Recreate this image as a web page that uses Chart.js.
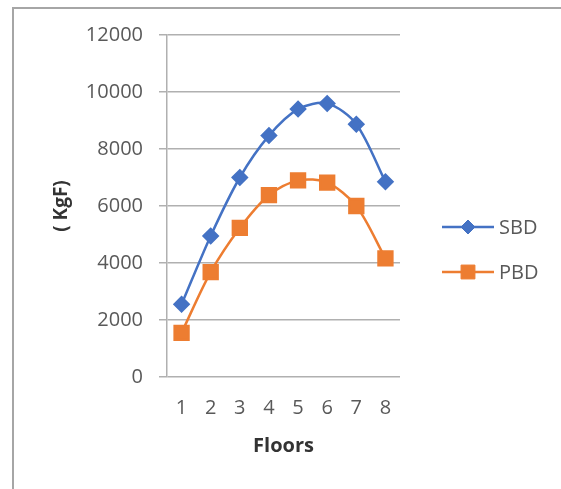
<!DOCTYPE html>
<html>
<head>
<meta charset="utf-8">
<script src="https://cdn.jsdelivr.net/npm/chart.js@4/dist/chart.umd.min.js"></script>
<style>
  html, body { margin: 0; padding: 0; background: #ffffff; }
  #wrap { position: relative; width: 561px; height: 489px; }
</style>
</head>
<body>
<div id="wrap"><canvas id="c"></canvas></div>
<script>
// Floor-by-floor force values (KgF)
const floors = ['1', '2', '3', '4', '5', '6', '7', '8'];
const sbdValues = [2550, 4950, 7000, 8470, 9400, 9600, 8870, 6850];
const pbdValues = [1550, 3680, 5230, 6380, 6900, 6820, 6000, 4160];
const seriesNames = ['SBD', 'PBD'];
const yTicks = [0, 2000, 4000, 6000, 8000, 10000, 12000];

const BLUE = '#4472C4';
const ORANGE = '#ED7D31';
const TEXT = '#595959';
const GRID = '#b0b0b0';
const FONT = "'Open Sans', 'Liberation Sans', sans-serif";

// Thin frame along the left and top edges
const framePlugin = {
  id: 'frame',
  beforeDraw(chart) {
    const ctx = chart.ctx;
    ctx.save();
    ctx.strokeStyle = '#a6a6a6';
    ctx.lineWidth = 2;
    ctx.beginPath();
    ctx.moveTo(13, chart.height + 2);
    ctx.lineTo(13, 8);
    ctx.lineTo(chart.width + 2, 8);
    ctx.stroke();
    ctx.restore();
  }
};

// Legend with a line segment and the series marker, to the right of the plot
const lineLegend = {
  id: 'lineLegend',
  afterDraw(chart) {
    const ctx = chart.ctx;
    const x0 = chart.chartArea.right + 42;
    const lineLen = 52;
    const rows = [227, 272];
    ctx.save();
    chart.data.datasets.forEach((ds, i) => {
      const y = rows[i];
      ctx.strokeStyle = ds.borderColor;
      ctx.lineWidth = 2.5;
      ctx.beginPath();
      ctx.moveTo(x0, y);
      ctx.lineTo(x0 + lineLen, y);
      ctx.stroke();
      ctx.fillStyle = ds.pointBackgroundColor;
      ctx.strokeStyle = ds.pointBorderColor;
      ctx.lineWidth = 1;
      Chart.helpers.drawPoint(ctx, {
        pointStyle: ds.pointStyle,
        radius: ds.pointRadius,
        borderWidth: 1,
        rotation: 0
      }, x0 + lineLen / 2, y);
      ctx.fillStyle = TEXT;
      ctx.font = '20px ' + FONT;
      ctx.textAlign = 'left';
      ctx.textBaseline = 'middle';
      ctx.fillText(ds.label, x0 + lineLen + 5, y + 1);
    });
    ctx.restore();
  }
};

new Chart(document.getElementById('c'), {
  type: 'line',
  data: {
    labels: floors,
    datasets: [
      {
        label: seriesNames[0],
        data: sbdValues,
        borderColor: BLUE,
        backgroundColor: BLUE,
        pointBackgroundColor: BLUE,
        pointBorderColor: BLUE,
        pointStyle: 'rectRot',
        pointRadius: 7,
        borderWidth: 2.5,
        tension: 0.3
      },
      {
        label: seriesNames[1],
        data: pbdValues,
        borderColor: ORANGE,
        backgroundColor: ORANGE,
        pointBackgroundColor: ORANGE,
        pointBorderColor: ORANGE,
        pointStyle: 'rect',
        pointRadius: 9.8,
        borderWidth: 2.5,
        tension: 0.3
      }
    ]
  },
  options: {
    responsive: true,
    maintainAspectRatio: false,
    animation: false,
    events: [],
    layout: { padding: { left: 50, right: 161, top: 35, bottom: 31 } },
    plugins: {
      legend: { display: false },
      tooltip: { enabled: false }
    },
    scales: {
      x: {
        offset: true,
        grid: { display: false, drawTicks: false },
        border: { display: false },
        ticks: { color: TEXT, font: { family: FONT, size: 20 }, padding: 19 },
        title: {
          display: true,
          text: 'Floors',
          color: '#333333',
          font: { family: FONT, size: 20, weight: 'bold' },
          padding: { top: 14, bottom: 0 }
        },
        afterFit(scale) { scale.height = 81; }
      },
      y: {
        min: 0,
        max: 12000,
        afterBuildTicks(scale) { scale.ticks = yTicks.map(v => ({ value: v })); },
        grid: { color: GRID, lineWidth: 1.5, tickLength: 8 },
        border: { display: true, color: GRID, width: 1.5 },
        ticks: {
          color: TEXT,
          font: { family: FONT, size: 20 },
          padding: 16,
          callback: (v) => String(v)
        },
        title: {
          display: true,
          text: '( KgF)',
          color: '#333333',
          font: { family: FONT, size: 19, weight: 'bold' },
          padding: 0
        },
        afterFit(scale) { scale.width = 117; }
      }
    }
  },
  plugins: [framePlugin, lineLegend]
});
</script>
</body>
</html>
